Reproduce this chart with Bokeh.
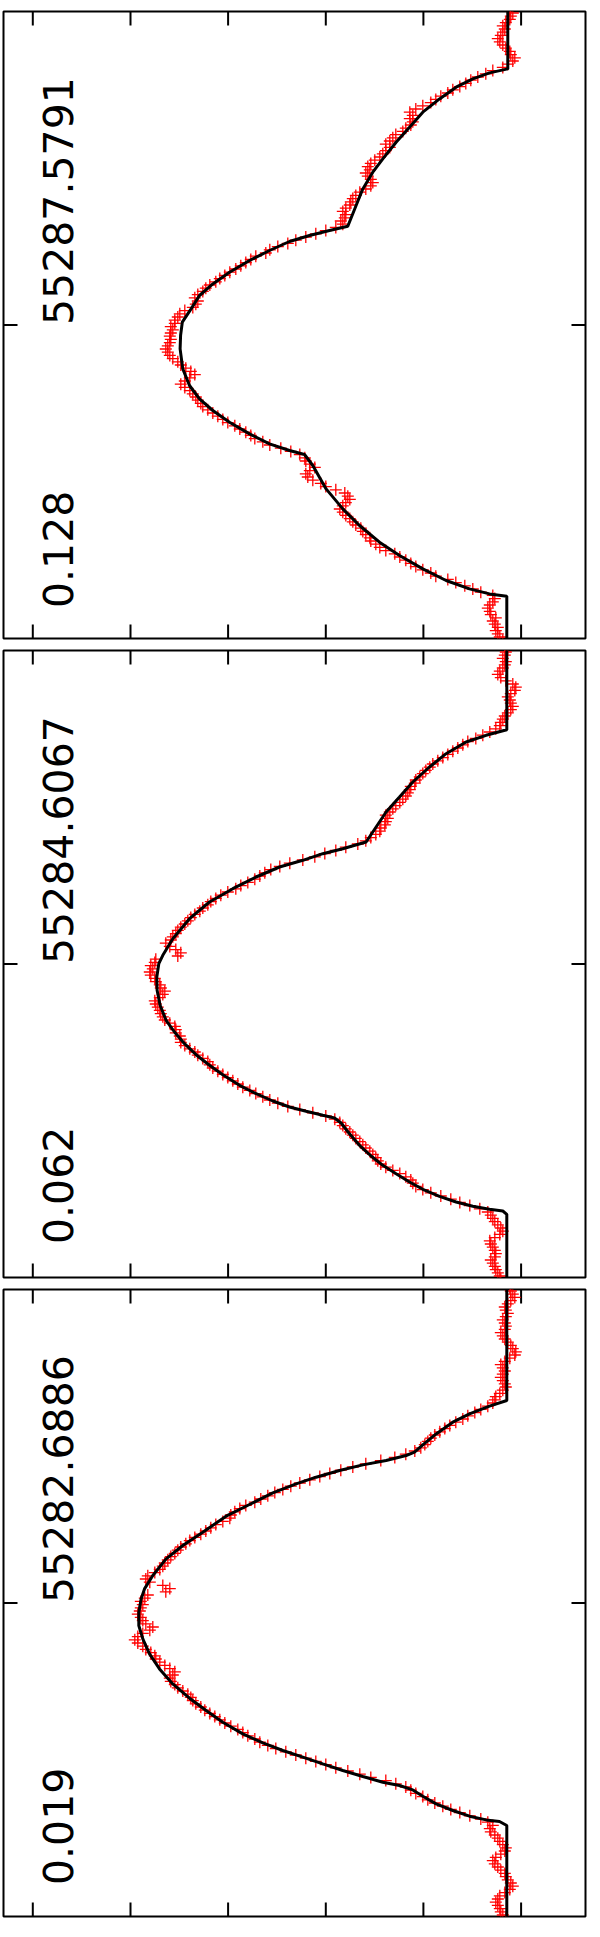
import numpy as np
from bokeh.plotting import figure
from bokeh.models import Range1d, Label
from bokeh.layouts import column
from bokeh.embed import file_html
from bokeh.resources import INLINE

# ---------------- data ----------------
# observation sampling (seconds relative to panel mid time)
obs_start = -315.2
obs_cadence = 3.2

# flux ticks (counts) and time tick (s)
flux_ticks = [0, 97.7, 195.3, 293.0, 390.6, 488.3]
time_ticks = [0]

panel_left_text = ["0.128", "0.062", "0.019"]
panel_right_text = ["55287.5791", "55284.6067", "55282.6886"]

flux_p1 = [470, 467, 465, 463, 465, 462, 460, 463, 458, 457,
           455, 457, 460, 462, 460, 448, 440, 432, 423, 415,
           403, 398, 390, 383, 378, 373, 367, 362, 353, 347,
           343, 338, 337, 333, 330, 328, 323, 320, 317, 313,
           310, 307, 310, 313, 317, 315, 312, 303, 293, 288,
           280, 275, 273, 277, 282, 277, 273, 272, 267, 258,
           248, 237, 230, 222, 218, 213, 207, 202, 195, 190,
           185, 180, 175, 170, 168, 165, 163, 160, 157, 152,
           148, 152, 157, 162, 158, 153, 148, 145, 140, 137,
           135, 133, 135, 137, 138, 137, 138, 140, 138, 142,
           142, 145, 147, 152, 160, 163, 165, 162, 165, 170,
           173, 177, 183, 187, 192, 197, 203, 208, 213, 218,
           223, 233, 237, 245, 255, 263, 273, 283, 293, 303,
           310, 308, 312, 313, 310, 313, 317, 318, 320, 323,
           327, 333, 338, 340, 338, 335, 333, 337, 335, 338,
           342, 347, 350, 353, 357, 353, 357, 360, 363, 370,
           373, 378, 380, 377, 380, 377, 383, 390, 398, 403,
           408, 415, 420, 427, 433, 438, 445, 453, 460, 470,
           475, 480, 482, 478, 477, 473, 470, 467, 465, 468,
           470, 472, 470, 473, 477, 478, 480, 477, 478]

flux_p2 = [468, 467, 465, 463, 462, 460, 458, 462, 463, 462,
           460, 458, 457, 462, 467, 470, 468, 465, 462, 460,
           458, 455, 447, 437, 427, 418, 408, 398, 390, 383,
           380, 378, 373, 367, 360, 353, 348, 345, 343, 340,
           337, 333, 330, 327, 323, 320, 317, 313, 310, 307,
           302, 293, 280, 267, 255, 245, 237, 230, 223, 217,
           210, 205, 200, 195, 190, 185, 180, 177, 175, 170,
           165, 162, 157, 152, 148, 148, 147, 143, 143, 142,
           137, 132, 130, 128, 127, 125, 123, 122, 127, 130,
           132, 128, 127, 123, 122, 118, 117, 120, 118, 122,
           123, 145, 148, 143, 137, 133, 138, 140, 143, 145,
           148, 152, 155, 158, 162, 167, 170, 175, 178, 183,
           188, 195, 203, 208, 215, 222, 227, 232, 238, 247,
           257, 270, 282, 292, 303, 313, 325, 333, 338, 343,
           347, 348, 352, 353, 355, 353, 357, 360, 363, 367,
           370, 373, 375, 377, 378, 382, 383, 387, 390, 393,
           397, 400, 405, 410, 415, 420, 425, 430, 435, 443,
           450, 457, 463, 467, 468, 470, 472, 475, 478, 480,
           478, 477, 475, 478, 482, 483, 480, 473, 468, 465,
           467, 470, 472, 473, 470, 472, 473, 475, 472]

flux_p3 = [473, 470, 468, 467, 465, 463, 465, 467, 472, 477,
           480, 478, 475, 473, 472, 468, 465, 462, 460, 463,
           468, 472, 473, 470, 467, 465, 462, 458, 457, 460,
           455, 448, 437, 427, 418, 410, 402, 395, 390, 383,
           378, 373, 363, 353, 338, 327, 315, 303, 293, 283,
           273, 263, 253, 243, 235, 227, 222, 215, 210, 205,
           198, 192, 187, 182, 177, 172, 168, 163, 160, 158,
           155, 150, 145, 142, 138, 137, 140, 142, 137, 132,
           127, 123, 122, 118, 113, 110, 105, 102, 105, 110,
           117, 120, 113, 110, 108, 105, 107, 108, 110, 108,
           112, 115, 133, 137, 130, 117, 113, 115, 122, 127,
           130, 132, 135, 138, 142, 145, 148, 153, 157, 162,
           168, 173, 178, 183, 190, 197, 198, 202, 207, 213,
           222, 228, 235, 242, 250, 258, 267, 277, 287, 297,
           308, 320, 333, 348, 362, 373, 382, 388, 392, 395,
           398, 402, 407, 412, 417, 423, 430, 435, 442, 448,
           455, 460, 462, 463, 467, 470, 473, 472, 470, 468,
           470, 472, 470, 468, 472, 477, 482, 483, 480, 478,
           475, 472, 470, 468, 472, 473, 472, 470, 473, 475,
           473, 472, 475, 478, 482, 480, 478, 477, 478]

# model light curves: (time s, counts)
model_p1 = [(-320, 474), (-271.2, 474), (-268.9, 456.7), (-263.9, 436.7), (-255.5, 413.3),
            (-243.9, 390), (-230.5, 366.7), (-217.2, 346.7), (-200.5, 326.7), (-183.9, 310),
            (-163.9, 293.3), (-140.5, 280), (-129.5, 271.7), (-125.5, 256.7), (-118.9, 236.7),
            (-108.9, 216.7), (-97.2, 196.7), (-85.5, 180), (-73.9, 166.7), (-60.5, 156.7),
            (-43.9, 150), (-23.9, 147.3), (-10.2, 147.8), (2.8, 149.5), (16.1, 158.3),
            (29.5, 166.7), (41.1, 180), (52.8, 196.7), (64.5, 216.7), (74.5, 236.7),
            (83.5, 256.7), (89.5, 276.7), (94.5, 296.7), (98.8, 315), (119.5, 323.3),
            (136.1, 330), (152.8, 340), (166.1, 350), (182.8, 363.3), (197.8, 376.7),
            (212.8, 390), (226.1, 406.7), (237.8, 423.3), (246.1, 440), (252.1, 456.7),
            (256.1, 475), (320, 475)]

model_p2 = [(-320, 474), (-250.3, 474), (-247, 470), (-245.3, 456.7), (-242.3, 440),
            (-238, 423.3), (-232.3, 406.7), (-225.3, 390), (-218, 376.7), (-209.7, 363.3),
            (-201.3, 350), (-192, 338.3), (-181.3, 326.7), (-169.7, 316.7), (-159, 308.3),
            (-154, 301.7), (-151.3, 290), (-147.3, 273.3), (-143, 256.7), (-137, 240),
            (-129.7, 223.3), (-121.3, 206.7), (-110.7, 190), (-101.3, 176.7), (-90.7, 163.3),
            (-79.7, 151.7), (-68, 141.7), (-56.3, 133.3), (-41.3, 127.3), (-26.3, 124.3),
            (-13, 124), (0.3, 126), (8.7, 130), (25.3, 140), (45.3, 156.7),
            (62, 176.7), (75.3, 200), (87, 223.3), (97, 246.7), (103.7, 270),
            (110.3, 290), (115.3, 310), (122, 333.3), (137, 343.3), (152, 353.3),
            (167, 366.7), (182, 380), (197, 396.7), (210.3, 413.3), (222, 433.3),
            (228.7, 453.3), (234.3, 474), (320, 474)]

model_p3 = [(-320, 474), (-222.5, 474), (-218.5, 466.7), (-216.9, 453.3), (-213.2, 436.7),
            (-207.5, 420), (-200.9, 403.3), (-193.2, 390), (-186.9, 380), (-182.5, 366.7),
            (-179.2, 350), (-173.5, 330), (-167.5, 310), (-160.9, 290), (-154.2, 270),
            (-147.5, 250), (-139.9, 230), (-130.9, 210), (-119.2, 190), (-107.5, 173.3),
            (-95.2, 156.7), (-80.9, 140), (-65.9, 126.7), (-50.9, 116.7), (-35.9, 110),
            (-22.5, 106), (-9.2, 106), (4.1, 108.3), (14.1, 111.7), (27.5, 120),
            (44.1, 133.3), (57.5, 150), (70.8, 170), (86.8, 193.3), (98.5, 216.7),
            (110.1, 240), (119.1, 263.3), (125.8, 283.3), (132.5, 306.7), (138.1, 330),
            (142.5, 353.3), (147.5, 373.3), (150.8, 381.7), (158.1, 390), (169.1, 403.3),
            (180.8, 420), (189.1, 436.7), (196.8, 456.7), (202.5, 474), (320, 474)]

# ---------------- drawing ----------------
FIG_W = 590
BORDER_L, BORDER_R = 3, 5
FRAME_H = 627
X0, X1 = -29.3, 552.7
Y0, Y1 = -313.5, 313.5
TICK_PX = 14


def make_panel(flux, model, left_text, right_text, left_t, btop, bbottom):
    p = figure(width=FIG_W, height=FRAME_H + btop + bbottom,
               output_backend="svg", toolbar_location=None,
               x_range=Range1d(X0, X1), y_range=Range1d(Y0, Y1),
               x_axis_location=None, y_axis_location=None,
               min_border_left=BORDER_L, min_border_right=BORDER_R,
               min_border_top=btop, min_border_bottom=bbottom)
    p.grid.visible = False
    p.outline_line_color = "black"
    p.outline_line_width = 2
    p.background_fill_color = "white"
    p.border_fill_color = "white"

    # inward tick marks (length expressed in data units from the ranges)
    frame_w = FIG_W - BORDER_L - BORDER_R
    kx = TICK_PX * (X1 - X0) / frame_w
    ky = TICK_PX * (Y1 - Y0) / FRAME_H
    xt = list(flux_ticks)
    p.segment(x0=xt, y0=[Y0] * len(xt), x1=xt, y1=[Y0 + ky] * len(xt),
              line_color="black", line_width=2)
    p.segment(x0=xt, y0=[Y1 - ky] * len(xt), x1=xt, y1=[Y1] * len(xt),
              line_color="black", line_width=2)
    yt = list(time_ticks)
    p.segment(x0=[X0] * len(yt), y0=yt, x1=[X0 + kx] * len(yt), y1=yt,
              line_color="black", line_width=2)
    p.segment(x0=[X1 - kx] * len(yt), y0=yt, x1=[X1] * len(yt), y1=yt,
              line_color="black", line_width=2)

    t = obs_start + obs_cadence * np.arange(len(flux))
    p.scatter(x=flux, y=t, marker="cross", size=12,
              line_color="#ff0000", line_width=1.3)
    mt = [m[0] for m in model]
    mf = [m[1] for m in model]
    p.line(x=mf, y=mt, line_color="black", line_width=3)

    common = dict(angle=np.pi / 2, text_font="DejaVu Sans", text_font_size="41px",
                  text_baseline="alphabetic", text_align="left", text_color="black")
    p.add_layout(Label(x=25, y=left_t, text=left_text, **common))
    p.add_layout(Label(x=25, y=0, text=right_text, **common))
    return p


p1 = make_panel(flux_p1, model_p1, panel_left_text[0], panel_right_text[0], -283, 11, 6)
p2 = make_panel(flux_p2, model_p2, panel_left_text[1], panel_right_text[1], -280, 6, 6)
p3 = make_panel(flux_p3, model_p3, panel_left_text[2], panel_right_text[2], -282, 6, 3)

layout = column(p1, p2, p3)
open("out.html", "w").write(file_html(layout, INLINE))
